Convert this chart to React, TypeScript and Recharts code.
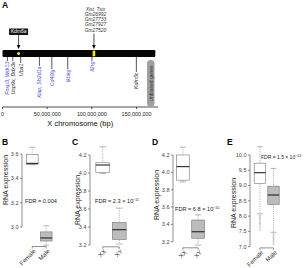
import React from 'react';
import { ComposedChart, Bar, Scatter, XAxis, YAxis, ReferenceArea } from 'recharts';

const FONT = '"Liberation Sans", Arial, Helvetica, sans-serif';

// ---- A: genes along the X chromosome (bp) ----
const chromosomeLength = 171000000;
const positionTicks = [0, 50000000, 100000000, 150000000];

const geneLabels = ['Foxp3, Wdr13', 'Usp9x, Ddx3x', 'Uba1', 'Xiap, Sh2d1a', 'Cd40lg', 'Ikbkg', 'Il2rg', 'Kdm5c'];
const genePositions = [5.5e6, 11.5e6, 20.4e6, 41.3e6, 55.2e6, 73.0e6, 100.1e6, 149.8e6];
const geneImmune = [true, false, false, true, true, true, true, false];

const hitLabels = [['Kdm6a'], ['Xist, Tsix', 'Gm26992', 'Gm27733', 'Gm27927', 'Gm27520']];
const hitPositions = [18.0e6, 102.3e6];

// how far each gene label hangs below the chromosome
const labelDrop = [3, 3, 5, 8, 11, 11, 3, 14];

// ---- B-E: expression, [lower whisker, Q1, median, Q3, upper whisker] ----
const groupsB = ['Female', 'Male'];
const boxesB = [[3.512, 3.515, 3.523, 3.595, 3.655], [2.85, 2.885, 2.91, 2.96, 3.01]];
const ticksB = [3.0, 3.2, 3.4, 3.6];

const groupsC = ['XX', 'XY'];
const boxesC = [[3.995, 4.008, 4.089, 4.114, 4.29], [3.21, 3.26, 3.37, 3.45, 3.61]];
const ticksC = [3.2, 3.4, 3.6, 3.8, 4.0, 4.2];

const groupsD = ['XX', 'XY'];
const boxesD = [[3.89, 3.91, 4.066, 4.2, 4.29], [3.16, 3.24, 3.315, 3.45, 3.51]];
const ticksD = [3.2, 3.4, 3.6, 3.8, 4.0, 4.2];

const groupsE = ['Female', 'Male'];
const boxesE = [[8.07, 9.07, 9.42, 9.73, 10.27], [7.47, 8.38, 8.69, 8.98, 9.56]];
const outliersE = [
  [8.02, 7.97, 7.92, 7.87, 7.81, 7.76, 7.7, 7.63, 7.55],
  [7.42, 7.37, 7.31, 7.26, 7.2, 7.14, 7.08],
];
const ticksE = [7.0, 7.5, 8.0, 8.5, 9.0, 9.5, 10.0];

const boxFills = ['#ffffff', '#bcbcbc'];
const AXIS = '#444';

const ChromosomeBar = (props: any) => {
  const { x, y, width, height } = props;
  const mid = y + height / 2;
  const px = (v: number) => x + (v / chromosomeLength) * width;
  return (
    <g>
      <rect x={x} y={mid - 3.5} width={width} height={7} rx={1.2} fill="#050505" />
      {hitPositions.map((pos, i) =>
        hitLabels[i].length > 1 ? (
          <rect key={i} x={px(pos) - 1.3} y={mid - 2.8} width={2.6} height={5.6} fill="#f2ea1a" />
        ) : (
          <circle key={i} cx={px(pos)} cy={mid} r={1.5} fill="#f2ea1a" />
        )
      )}
    </g>
  );
};

const GeneTick = (props: any) => {
  const { cx, cy, payload } = props;
  const top = cy + 3.5;
  const end = top + payload.drop;
  return (
    <g>
      <line x1={cx} x2={cx} y1={top} y2={end + 1} stroke="#111" strokeWidth={0.7} />
      <text
        transform={`translate(${cx + 1.8},${end + 1.5}) rotate(-90)`}
        textAnchor="end"
        fontSize={5.3}
        fontStyle="italic"
        fontFamily={FONT}
        fill={payload.immune ? '#4b4be6' : '#222'}
      >
        {payload.label}
      </text>
    </g>
  );
};

const HitArrow = (props: any) => {
  const { cx, cy, payload } = props;
  const tipY = cy - 4.5;
  const labels: string[] = payload.labels;
  const head = <polygon points={`${cx - 1.8},${tipY - 4} ${cx + 1.8},${tipY - 4} ${cx},${tipY}`} fill="#000" />;
  if (labels.length === 1) {
    const boxBottom = cy - 18.5;
    return (
      <g>
        <rect x={cx - 9.5} y={boxBottom - 6.5} width={19} height={6.5} fill="#111" />
        <text x={cx} y={boxBottom - 1.6} textAnchor="middle" fontSize={5} fontStyle="italic" fontFamily={FONT} fill="#fff">
          {labels[0]}
        </text>
        <line x1={cx} x2={cx} y1={boxBottom} y2={tipY - 3.5} stroke="#000" strokeWidth={0.7} />
        {head}
      </g>
    );
  }
  const lastBase = cy - 22;
  return (
    <g>
      {labels.map((l, i) => (
        <text
          key={l}
          x={cx + 1.5}
          y={lastBase - (labels.length - 1 - i) * 5.1}
          textAnchor="middle"
          fontSize={4.9}
          fontStyle="italic"
          fontFamily={FONT}
          fill="#333"
        >
          {l}
        </text>
      ))}
      <line x1={cx} x2={cx} y1={cy - 20} y2={tipY - 3.5} stroke="#000" strokeWidth={0.7} />
      {head}
    </g>
  );
};

function ChromosomeMap() {
  const genes = genePositions.map((pos, i) => ({
    pos,
    track: 0,
    label: geneLabels[i],
    immune: geneImmune[i],
    drop: labelDrop[i],
  }));
  const hits = hitPositions.map((pos, i) => ({ pos, track: 0, labels: hitLabels[i] }));

  return (
    <ComposedChart width={160} height={130} margin={{ top: 0, right: 2, bottom: 0, left: 2.5 }}>
      <XAxis
        type="number"
        dataKey="pos"
        domain={[0, 174000000]}
        ticks={positionTicks}
        interval={0}
        height={23}
        tickFormatter={(v: number) => v.toLocaleString('en-US')}
        tick={{ fontSize: 5.4, fill: '#222', fontFamily: FONT }}
        tickSize={2}
        tickMargin={3}
        axisLine={{ stroke: '#222', strokeWidth: 0.8 }}
        tickLine={{ stroke: '#222', strokeWidth: 0.8 }}
        label={{ value: 'X chromosome (bp)', position: 'insideBottom', offset: 4, fontSize: 7.5, fill: '#111', fontFamily: FONT }}
      />
      <YAxis type="number" dataKey="track" domain={[-1, 1]} hide />
      <ReferenceArea x1={0} x2={chromosomeLength} shape={ChromosomeBar} />
      <Scatter data={genes} dataKey="track" shape={GeneTick} isAnimationActive={false} />
      <Scatter data={hits} dataKey="track" shape={HitArrow} isAnimationActive={false} />
    </ComposedChart>
  );
}

type PanelLayout = {
  left: number;
  width: number;
  axisX: number;
  padLeft: number;
  band: number;
  plotTop: number;
  plotBottom: number;
  domain: [number, number];
};

const CHART_TOP = 130;
const CHART_HEIGHT = 138;

function BoxPanel({
  groups,
  boxes,
  outliers,
  ticks,
  layout,
}: {
  groups: string[];
  boxes: number[][];
  outliers?: number[][];
  ticks: number[];
  layout: PanelLayout;
}) {
  const data = groups.map((group, i) => {
    const [lo, q1, med, q3, hi] = boxes[i];
    const out = outliers ? outliers[i] : [];
    return { group, lo, q1, med, q3, hi, out, min: Math.min(lo, ...out), max: Math.max(hi, ...out) };
  });
  const n = groups.length;
  const yAxisWidth = layout.axisX - layout.left;
  const marginRight = layout.width - yAxisWidth - layout.padLeft - n * layout.band;

  const renderBox = (props: any) => {
    const { x, y, width, height, payload, index } = props;
    const top = Math.min(y, y + height);
    const bottom = Math.max(y, y + height);
    const py = (v: number) => top + ((payload.max - v) / (payload.max - payload.min)) * (bottom - top);
    const cx = x + width / 2;
    const bw = layout.band * 0.84;
    const cap = bw * 0.5;
    const axisY = py(layout.domain[0]);
    return (
      <g>
        {index === 0 && (
          <line
            x1={yAxisWidth}
            x2={yAxisWidth}
            y1={py(ticks[0])}
            y2={py(ticks[ticks.length - 1])}
            stroke={AXIS}
            strokeWidth={0.6}
          />
        )}
        <line
          x1={index > 0 ? cx - layout.band / 2 : cx}
          x2={index < n - 1 ? cx + layout.band / 2 : cx}
          y1={axisY}
          y2={axisY}
          stroke={AXIS}
          strokeWidth={0.6}
        />
        <line x1={cx} x2={cx} y1={axisY} y2={axisY + 2} stroke={AXIS} strokeWidth={0.6} />
        <line x1={cx} x2={cx} y1={py(payload.hi)} y2={py(payload.q3)} stroke="#888" strokeWidth={0.6} strokeDasharray="1.2 1" />
        <line x1={cx} x2={cx} y1={py(payload.q1)} y2={py(payload.lo)} stroke="#888" strokeWidth={0.6} strokeDasharray="1.2 1" />
        <line x1={cx - cap / 2} x2={cx + cap / 2} y1={py(payload.hi)} y2={py(payload.hi)} stroke="#888" strokeWidth={0.6} />
        <line x1={cx - cap / 2} x2={cx + cap / 2} y1={py(payload.lo)} y2={py(payload.lo)} stroke="#888" strokeWidth={0.6} />
        <rect
          x={cx - bw / 2}
          y={py(payload.q3)}
          width={bw}
          height={py(payload.q1) - py(payload.q3)}
          fill={boxFills[index]}
          stroke="#777"
          strokeWidth={0.6}
        />
        <line x1={cx - bw / 2} x2={cx + bw / 2} y1={py(payload.med)} y2={py(payload.med)} stroke="#222" strokeWidth={1.1} />
        {payload.out.map((v: number, k: number) => (
          <circle key={k} cx={cx} cy={py(v)} r={0.7} fill="none" stroke="#999" strokeWidth={0.4} />
        ))}
      </g>
    );
  };

  const renderGroupTick = (p: any) => (
    <text
      transform={`translate(${p.x + 4},${p.y + 5}) rotate(-45)`}
      textAnchor="end"
      fontSize={6}
      fill="#333"
      fontFamily={FONT}
    >
      {p.payload.value}
    </text>
  );

  return (
    <div style={{ position: 'absolute', left: layout.left, top: CHART_TOP }}>
      <ComposedChart
        width={layout.width}
        height={CHART_HEIGHT}
        data={data}
        barCategoryGap={0}
        margin={{ top: layout.plotTop - CHART_TOP, right: marginRight, bottom: 0, left: 0 }}
      >
        <XAxis
          dataKey="group"
          type="category"
          height={CHART_TOP + CHART_HEIGHT - layout.plotBottom}
          padding={{ left: layout.padLeft, right: 0 }}
          axisLine={false}
          tickLine={false}
          tickSize={0}
          tickMargin={0}
          interval={0}
          tick={renderGroupTick}
        />
        <YAxis
          type="number"
          domain={layout.domain}
          ticks={ticks}
          interval={0}
          width={yAxisWidth}
          axisLine={false}
          tickLine={{ stroke: AXIS, strokeWidth: 0.6 }}
          tickSize={2}
          tickMargin={1.5}
          tick={{ fontSize: 5.5, fill: '#444', fontFamily: FONT }}
          tickFormatter={(v: number) => v.toFixed(1)}
        />
        <Bar dataKey={(d: any) => [d.min, d.max]} shape={renderBox} isAnimationActive={false} />
      </ComposedChart>
    </div>
  );
}

const layoutB: PanelLayout = { left: 0, width: 72, axisX: 22, padLeft: 3.2, band: 14, plotTop: 141.8, plotBottom: 246.5, domain: [2.84, 3.7] };
const layoutC: PanelLayout = { left: 72, width: 78, axisX: 90, padLeft: 4.25, band: 16.5, plotTop: 141.5, plotBottom: 246.8, domain: [3.18, 4.35] };
const layoutD: PanelLayout = { left: 150, width: 76, axisX: 173, padLeft: 2.35, band: 15.3, plotTop: 142, plotBottom: 247.8, domain: [3.13, 4.35] };
const layoutE: PanelLayout = { left: 226, width: 79, axisX: 250, padLeft: 2.9, band: 13.6, plotTop: 141.2, plotBottom: 247.9, domain: [6.96, 10.45] };

const Sup = ({ children }: { children: string }) => (
  <tspan dy={-2.2} fontSize={3.6}>
    {children}
  </tspan>
);

export default function App() {
  const letter = { fontSize: 8.5, fontWeight: 700, fill: '#000', fontFamily: FONT } as const;
  const yTitle = { fontSize: 7, fill: '#222', fontFamily: FONT, textAnchor: 'middle' } as const;
  const fdr = { fontSize: 5.6, fill: '#222', fontFamily: FONT } as const;
  return (
    <div style={{ position: 'absolute', left: 0, top: 0, width: 305, height: 268, background: '#fff', overflow: 'hidden' }}>
      <div style={{ position: 'absolute', left: 0, top: 0 }}>
        <ChromosomeMap />
      </div>
      <BoxPanel groups={groupsB} boxes={boxesB} ticks={ticksB} layout={layoutB} />
      <BoxPanel groups={groupsC} boxes={boxesC} ticks={ticksC} layout={layoutC} />
      <BoxPanel groups={groupsD} boxes={boxesD} ticks={ticksD} layout={layoutD} />
      <BoxPanel groups={groupsE} boxes={boxesE} outliers={outliersE} ticks={ticksE} layout={layoutE} />
      <svg width={305} height={268} style={{ position: 'absolute', left: 0, top: 0, pointerEvents: 'none' }}>
        <text x={2} y={8} {...letter}>A</text>
        <text x={2} y={145} {...letter}>B</text>
        <text x={72} y={145} {...letter}>C</text>
        <text x={152} y={145} {...letter}>D</text>
        <text x={227} y={145} {...letter}>E</text>

        <rect x={147} y={60} width={7.5} height={47} rx={3.7} fill="#a0a0a0" />
        <text transform="translate(152.6,83.5) rotate(-90)" textAnchor="middle" fontSize={5} fill="#333" fontFamily={FONT}>
          Unbiased genes
        </text>

        <text transform="translate(8,180) rotate(-90)" {...yTitle}>RNA expression</text>
        <text transform="translate(80,200) rotate(-90)" {...yTitle}>RNA expression</text>
        <text transform="translate(158.5,195) rotate(-90)" {...yTitle}>RNA expression</text>
        <text transform="translate(235.5,203) rotate(-90)" {...yTitle}>RNA expression</text>

        <text x={25} y={203} {...fdr}>FDR = 0.004</text>
        <text x={95} y={203} {...fdr}>
          FDR = 2.3 × 10<Sup>−11</Sup>
        </text>
        <text x={175} y={211} {...fdr}>
          FDR = 6.8 × 10<Sup>−10</Sup>
        </text>
        <text x={261} y={159} {...fdr} fontSize={5}>
          FDR = 1.5 × 10<Sup>−13</Sup>
        </text>
      </svg>
    </div>
  );
}
